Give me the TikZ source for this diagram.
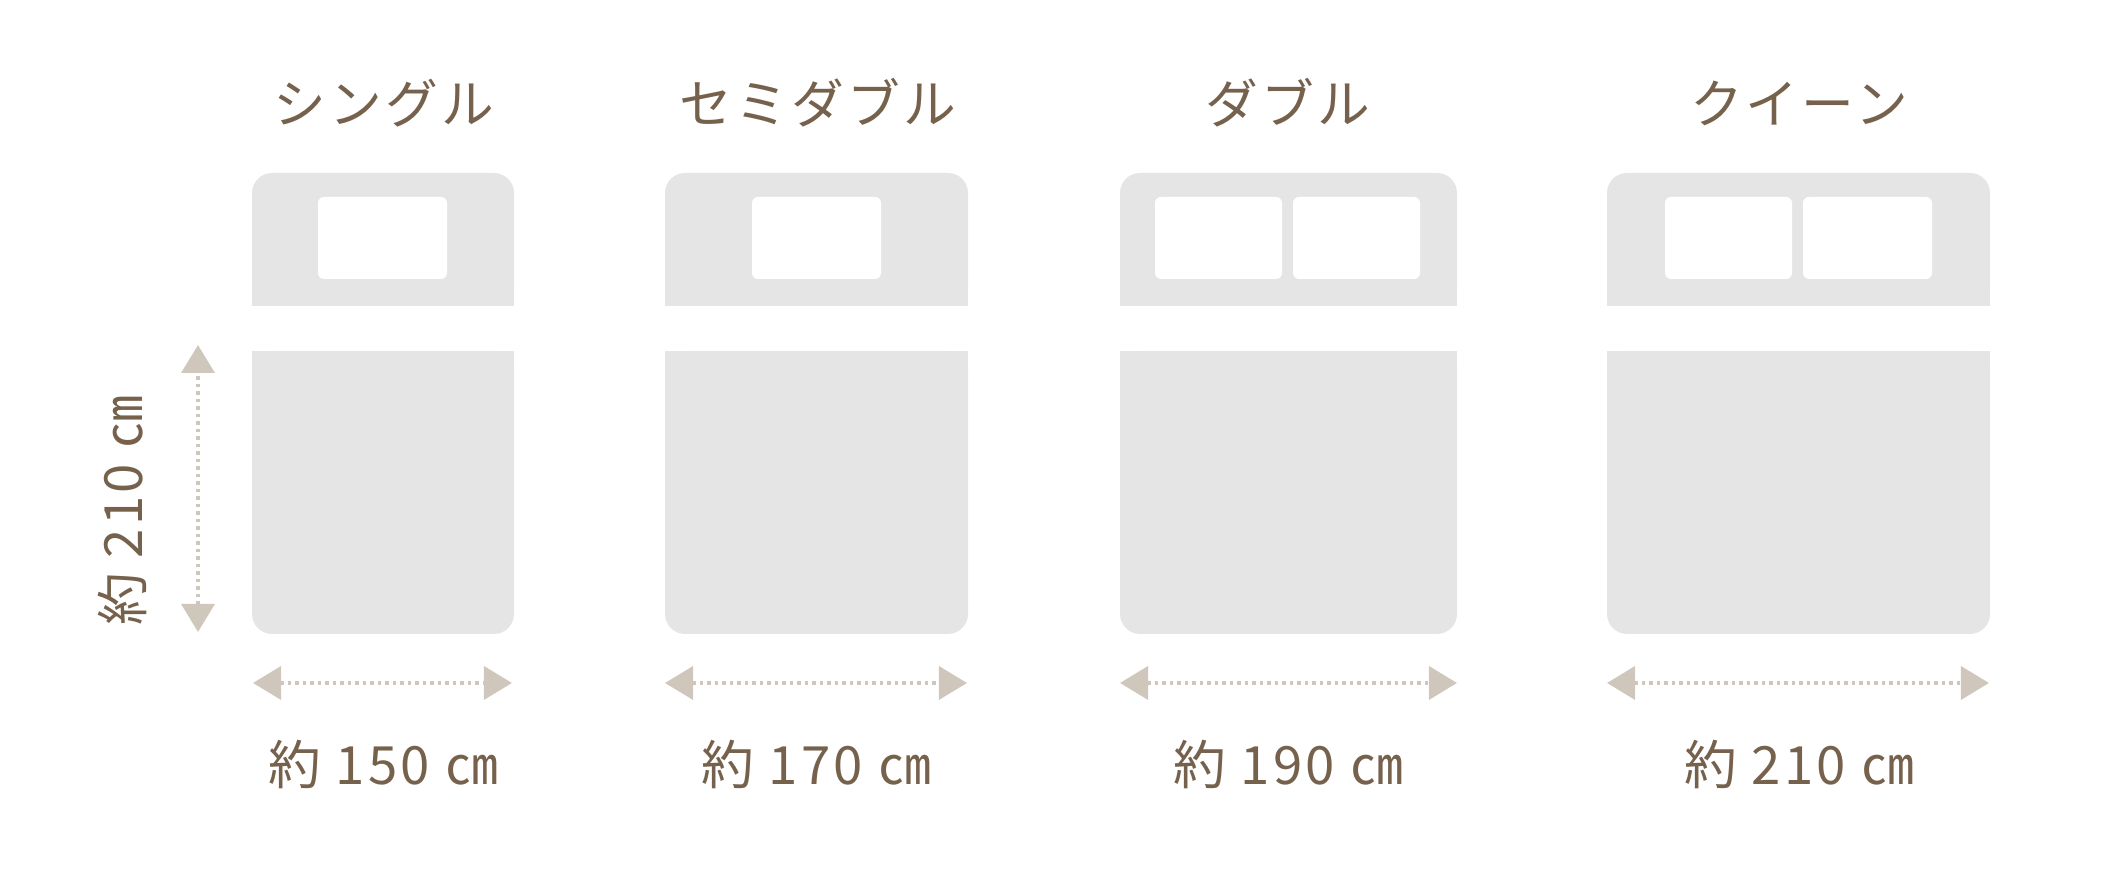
\documentclass[tikz,border=0pt]{standalone}
\usepackage{fontspec}
\setmainfont{Noto Sans CJK JP}
\newfontfamily\titlefont[LetterSpace=6]{Noto Sans CJK JP}
\newfontfamily\sizefont[LetterSpace=6]{Noto Sans CJK JP}
\usetikzlibrary{arrows.meta}
\definecolor{bedgray}{RGB}{229,229,229}
\definecolor{textbrown}{RGB}{118,98,76}
\definecolor{arrowbeige}{RGB}{208,199,188}
\tikzset{
  bedcorner/.style={fill=bedgray,rounded corners=0.2cm},
  pillow/.style={fill=white,rounded corners=0.06cm},
  bedtitle/.style={text=textbrown,font=\titlefont\fontsize{15pt}{18pt}\selectfont},
  sizelabel/.style={text=textbrown,font=\sizefont\fontsize{15pt}{18pt}\selectfont},
  dimline/.style={draw=arrowbeige,line width=0.035cm,dash pattern=on 0.035cm off 0.04cm,
    {Triangle[length=0.28cm,width=0.33cm]}-{Triangle[length=0.28cm,width=0.33cm]}}
}
\begin{document}
\begin{tikzpicture}[x=0.01cm,y=0.01cm]
\useasboundingbox (0,0) rectangle (2126,874);
% single
\fill[bedcorner] (252,568) rectangle (514,701);
\fill[bedgray] (252,568) rectangle (514,640);
\fill[bedcorner] (252,240) rectangle (514,523);
\fill[bedgray] (252,300) rectangle (514,523);
\fill[pillow] (318,595) rectangle (447,677);
\node[bedtitle] (single) at (384,771) {シングル};
% semi double
\fill[bedcorner] (665,568) rectangle (968,701);
\fill[bedgray] (665,568) rectangle (968,640);
\fill[bedcorner] (665,240) rectangle (968,523);
\fill[bedgray] (665,300) rectangle (968,523);
\fill[pillow] (752,595) rectangle (881,677);
\node[bedtitle] (semidouble) at (818,771) {セミダブル};
% double
\fill[bedcorner] (1120,568) rectangle (1457,701);
\fill[bedgray] (1120,568) rectangle (1457,640);
\fill[bedcorner] (1120,240) rectangle (1457,523);
\fill[bedgray] (1120,300) rectangle (1457,523);
\fill[pillow] (1155,595) rectangle (1282,677);
\fill[pillow] (1293,595) rectangle (1420,677);
\node[bedtitle] (double) at (1288,771) {ダブル};
% queen
\fill[bedcorner] (1607,568) rectangle (1990,701);
\fill[bedgray] (1607,568) rectangle (1990,640);
\fill[bedcorner] (1607,240) rectangle (1990,523);
\fill[bedgray] (1607,300) rectangle (1990,523);
\fill[pillow] (1665,595) rectangle (1792,677);
\fill[pillow] (1803,595) rectangle (1932,677);
\node[bedtitle] (queen) at (1799,771) {クイーン};
% length
\coordinate (lenbottom) at (198,242);
\coordinate (lentop) at (198,529);
\draw[dimline] (lenbottom) -- (lentop);
\node[sizelabel,rotate=90] (lenlabel) at (122,363) {約 210 ㎝};
% widths
\coordinate (w1l) at (253,191);
\coordinate (w1r) at (512,191);
\coordinate (w2l) at (665,191);
\coordinate (w2r) at (967,191);
\coordinate (w3l) at (1120,191);
\coordinate (w3r) at (1457,191);
\coordinate (w4l) at (1607,191);
\coordinate (w4r) at (1989,191);
\draw[dimline] (w1l) -- (w1r);
\draw[dimline] (w2l) -- (w2r);
\draw[dimline] (w3l) -- (w3r);
\draw[dimline] (w4l) -- (w4r);
\node[sizelabel] (w1label) at (383,109) {約 150 ㎝};
\node[sizelabel] (w2label) at (816,109) {約 170 ㎝};
\node[sizelabel] (w3label) at (1288,109) {約 190 ㎝};
\node[sizelabel] (w4label) at (1799,109) {約 210 ㎝};
\end{tikzpicture}
\end{document}
